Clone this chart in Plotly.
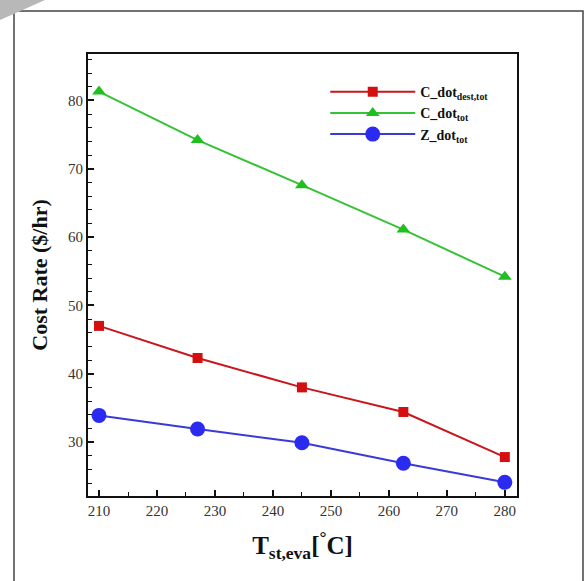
import plotly.graph_objects as go

x_temp = [210, 227, 245, 262.5, 280]
c_dest_tot = [47.0, 42.3, 38.0, 34.4, 27.8]
c_tot = [81.3, 74.2, 67.6, 61.1, 54.2]
z_tot = [33.9, 31.9, 29.9, 26.9, 24.1]

x_ticks = [210, 220, 230, 240, 250, 260, 270, 280]
y_ticks = [30, 40, 50, 60, 70, 80]

serif = "Liberation Serif, Times New Roman, serif"

fig = go.Figure()
fig.add_trace(go.Scatter(
    x=x_temp, y=c_dest_tot, mode="lines+markers",
    name="<b>C_dot<sub>dest,tot</sub></b>",
    line=dict(color="#c8161d", width=2),
    marker=dict(symbol="square", size=10, color="#d40f0f"),
))
fig.add_trace(go.Scatter(
    x=x_temp, y=c_tot, mode="lines+markers",
    name="<b>C_dot<sub>tot</sub></b>",
    line=dict(color="#36c236", width=2),
    marker=dict(symbol="triangle-up", size=12, color="#1fbf1f"),
))
fig.add_trace(go.Scatter(
    x=x_temp, y=z_tot, mode="lines+markers",
    name="<b>Z_dot<sub>tot</sub></b>",
    line=dict(color="#3a3ad6", width=2),
    marker=dict(symbol="circle", size=15, color="#2a2af0"),
))

# paper-coordinate helpers for the outer page frame
L, R, T, B = 88, 517, 54, 496
def px(v):
    return (v - L) / (R - L)
def py(v):
    return (B - v) / (B - T)

shapes = [
    dict(type="path", xref="paper", yref="paper",
         path=f"M {px(14)},{py(590)} L {px(14)},{py(11)} L {px(583)},{py(11)} L {px(583)},{py(590)}",
         line=dict(color="#444444", width=1.5)),
    dict(type="path", xref="paper", yref="paper",
         path=f"M {px(0)},{py(0)} L {px(45)},{py(0)} L {px(0)},{py(20)} Z",
         fillcolor="#b8b8b8", line=dict(width=0)),
]

fig.update_layout(
    width=585, height=581,
    margin=dict(l=L, r=585 - R, t=T, b=581 - B, autoexpand=False),
    paper_bgcolor="white", plot_bgcolor="white",
    font=dict(family=serif, color="#222222"),
    showlegend=True,
    legend=dict(
        x=0.553, y=0.950, xanchor="left", yanchor="top",
        bgcolor="rgba(0,0,0,0)", itemwidth=85,
        font=dict(family=serif, size=14, color="#111111"),
        tracegroupgap=0, itemsizing="trace",
    ),
    shapes=shapes,
    xaxis=dict(
        range=[208.1, 282.1], tickmode="array", tickvals=x_ticks,
        automargin=False,
        ticks="inside", ticklen=6, tickwidth=1.5, tickcolor="#111111",
        minor=dict(dtick=5, ticks="inside", ticklen=4, tickwidth=1.2, tickcolor="#111111"),
        showgrid=False, zeroline=False,
        showline=True, linecolor="#111111", linewidth=2, mirror=True,
        tickfont=dict(family=serif, size=15, color="#333333"),
        title=dict(text="<b>T<sub>st,eva</sub>[<sup>°</sup>C]</b>",
                   font=dict(family=serif, size=25, color="#111111"), standoff=18),
    ),
    yaxis=dict(
        range=[22.1, 86.8], tickmode="array", tickvals=y_ticks,
        automargin=False,
        ticks="inside", ticklen=6, tickwidth=1.5, tickcolor="#111111",
        minor=dict(dtick=2, tick0=0, ticks="inside", ticklen=4, tickwidth=1.2, tickcolor="#111111"),
        showgrid=False, zeroline=False,
        showline=True, linecolor="#111111", linewidth=2, mirror=True,
        tickfont=dict(family=serif, size=15, color="#333333"),
        title=dict(text="<b>Cost Rate ($/hr)</b>",
                   font=dict(family=serif, size=22, color="#111111"), standoff=14),
    ),
)

fig.write_html(
    "out.html",
    config={"displayModeBar": False},
    post_script="document.body.style.margin='0';document.body.style.overflow='hidden';",
)
